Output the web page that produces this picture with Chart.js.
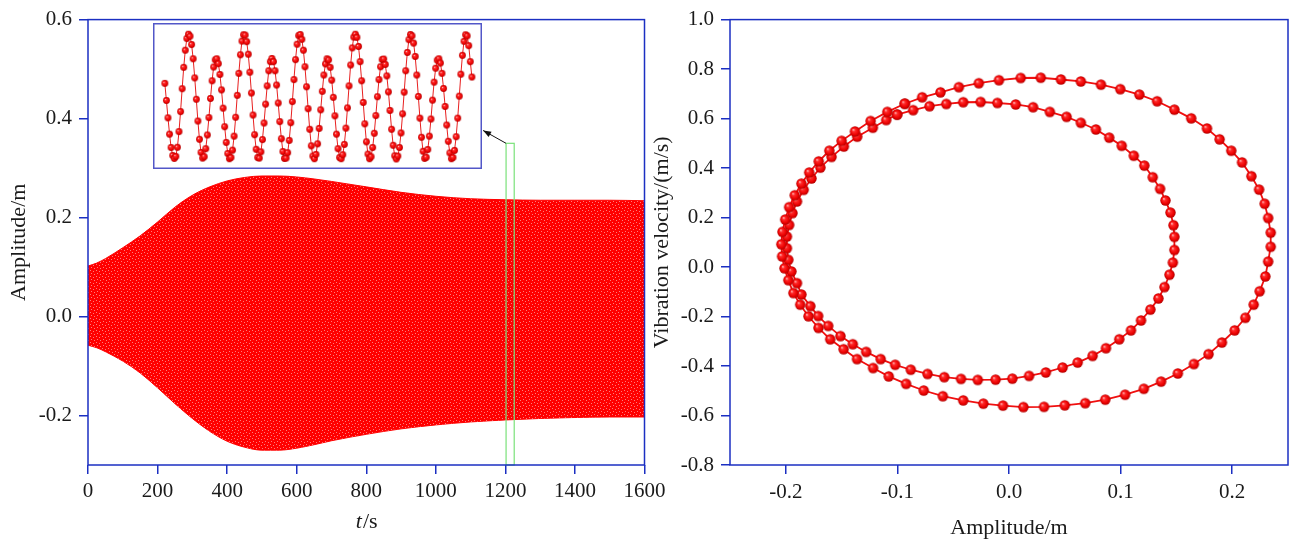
<!DOCTYPE html>
<html>
<head>
<meta charset="utf-8">
<title>Response and phase portrait</title>
<script src="https://cdn.jsdelivr.net/npm/chart.js@4.4.0/dist/chart.umd.min.js"></script>
<style>
  body { margin: 0; background: #fff; }
  #wrap { position: relative; width: 1297px; height: 550px; overflow: hidden; }
  canvas { position: absolute; top: 0; }
</style>
</head>
<body>
<div id="wrap">
  <canvas id="timeChart" width="680" height="550" style="left:0"></canvas>
  <canvas id="phaseChart" width="657" height="550" style="left:640px"></canvas>
  <canvas id="zoomChart" width="329" height="146" style="left:153px;top:23px"></canvas>
</div>
<script>
const AXIS_BLUE = "#1b2fc2";
const TEXT = "#1a1a1a";
const FONT = "'Liberation Serif', 'Times New Roman', serif";

// envelope of the displacement record (upper / lower bound of the band)
const envTime = [0, 25, 50, 100, 150, 200, 250, 300, 350, 400, 450, 500, 550, 600,
  650, 700, 800, 900, 1000, 1100, 1200, 1300, 1400, 1500, 1600];
const envUpper = [0.102, 0.108, 0.117, 0.139, 0.163, 0.191, 0.221, 0.245, 0.262, 0.274,
  0.281, 0.284, 0.284, 0.282, 0.278, 0.273, 0.262, 0.251, 0.243, 0.238, 0.236, 0.235,
  0.235, 0.235, 0.234];
const envLower = [-0.058, -0.063, -0.071, -0.090, -0.114, -0.144, -0.176, -0.206, -0.232,
  -0.252, -0.264, -0.270, -0.270, -0.266, -0.259, -0.251, -0.238, -0.227, -0.219, -0.213,
  -0.209, -0.206, -0.204, -0.203, -0.203];

// detail window starting at 1202 s, one sample every 0.12 s
const zoomStart = 1202;
const zoomStep = 0.12;
const zoomAmp = [
  0.064, 0.004, -0.057, -0.114, -0.161, -0.189, -0.199,
  -0.192, -0.160, -0.105, -0.035, 0.045, 0.120, 0.180, 0.221, 0.236, 0.229, 0.200, 0.150, 0.083, 0.008, -0.068, -0.132, -0.178, -0.198,
  -0.193, -0.165, -0.117, -0.056, 0.011, 0.073, 0.121, 0.146, 0.150, 0.133, 0.095, 0.041, -0.023, -0.088, -0.143, -0.182, -0.200,
  -0.196, -0.170, -0.121, -0.055, 0.022, 0.099, 0.164, 0.212, 0.234, 0.233, 0.210, 0.166, 0.103, 0.030, -0.047, -0.116, -0.167, -0.196,
  -0.198, -0.176, -0.133, -0.075, -0.009, 0.055, 0.108, 0.140, 0.151, 0.140, 0.108, 0.058, -0.005, -0.070, -0.130, -0.175, -0.199,
  -0.198, -0.179, -0.136, -0.074, 0.000, 0.077, 0.147, 0.201, 0.231, 0.235, 0.218, 0.180, 0.122, 0.052, -0.025, -0.097, -0.155, -0.191,
  -0.200, -0.185, -0.148, -0.094, -0.029, 0.036, 0.093, 0.132, 0.150, 0.146, 0.120, 0.075, 0.015, -0.050, -0.114, -0.165, -0.196,
  -0.200, -0.186, -0.150, -0.093, -0.022, 0.055, 0.128, 0.188, 0.226, 0.236, 0.225, 0.193, 0.140, 0.073, -0.003, -0.078, -0.141, -0.184,
  -0.200, -0.193, -0.161, -0.111, -0.049, 0.017, 0.077, 0.122, 0.147, 0.149, 0.130, 0.090, 0.034, -0.031, -0.097, -0.153, -0.190, -0.201,
  -0.191, -0.161, -0.110, -0.043, 0.033, 0.108, 0.172, 0.217, 0.235, 0.230, 0.205, 0.158, 0.093, 0.018, -0.058, -0.125, -0.174, -0.199,
  -0.195, -0.168, -0.121, -0.061, 0.005, 0.068, 0.117, 0.145, 0.150, 0.135, 0.099, 0.046, -0.017, -0.082, -0.139, -0.180, -0.200,
  -0.196, -0.171, -0.123, -0.058, 0.019, 0.096, 0.162, 0.211, 0.234, 0.230, 0.196, 0.140, 0.086
];
const zoomEnd = zoomStart + (zoomAmp.length - 1) * zoomStep;
const zoomTop = 0.35;
const arrowTip = [1136, 0.376];

// phase portrait: the two loops of the steady period-2 orbit, [amplitude, velocity]
const loopOuter = [
  [-0.0934, 0.660], [-0.0778, 0.686], [-0.0614, 0.706], [-0.0449, 0.727], [-0.0270, 0.743],
  [-0.0090, 0.755], [0.0105, 0.764], [0.0285, 0.765], [0.0465, 0.758], [0.0644, 0.750],
  [0.0824, 0.737], [0.0997, 0.719], [0.1168, 0.697], [0.1327, 0.670], [0.1482, 0.636],
  [0.1633, 0.601], [0.1774, 0.560], [0.1887, 0.516], [0.1992, 0.470], [0.2088, 0.423],
  [0.2172, 0.367], [0.2241, 0.313], [0.2291, 0.256], [0.2322, 0.198], [0.2345, 0.139],
  [0.2345, 0.082], [0.2322, 0.022], [0.2297, -0.038], [0.2246, -0.098], [0.2192, -0.152],
  [0.2118, -0.205], [0.2022, -0.256], [0.1908, -0.305], [0.1788, -0.352], [0.1657, -0.392],
  [0.1513, -0.430], [0.1363, -0.463], [0.1208, -0.492], [0.1040, -0.516], [0.0863, -0.536],
  [0.0683, -0.550], [0.0500, -0.559], [0.0314, -0.565], [0.0129, -0.566], [-0.0054, -0.560],
  [-0.0230, -0.552], [-0.0410, -0.539], [-0.0593, -0.522], [-0.0764, -0.499], [-0.0922, -0.472],
  [-0.1078, -0.442], [-0.1218, -0.408], [-0.1362, -0.372], [-0.1482, -0.332], [-0.1602, -0.292],
  [-0.1707, -0.246], [-0.1797, -0.199], [-0.1871, -0.152], [-0.1932, -0.105], [-0.1977, -0.053],
  [-0.2012, -0.005], [-0.2033, 0.043], [-0.2040, 0.092], [-0.2030, 0.142], [-0.2005, 0.192],
  [-0.1970, 0.242], [-0.1920, 0.290], [-0.1860, 0.337], [-0.1790, 0.382], [-0.1705, 0.427],
  [-0.1610, 0.470], [-0.1500, 0.510], [-0.1380, 0.548], [-0.1240, 0.590], [-0.1090, 0.627]
];
const loopInner = [
  [-0.1003, 0.616], [-0.0859, 0.634], [-0.0712, 0.650], [-0.0562, 0.659], [-0.0410, 0.666],
  [-0.0254, 0.667], [-0.0104, 0.663], [0.0060, 0.657], [0.0216, 0.646], [0.0366, 0.627],
  [0.0516, 0.607], [0.0644, 0.583], [0.0779, 0.556], [0.0898, 0.523], [0.1010, 0.490],
  [0.1118, 0.450], [0.1213, 0.410], [0.1288, 0.363], [0.1354, 0.316], [0.1402, 0.269],
  [0.1447, 0.220], [0.1474, 0.169], [0.1482, 0.122], [0.1482, 0.069], [0.1468, 0.018],
  [0.1438, -0.031], [0.1393, -0.081], [0.1339, -0.127], [0.1267, -0.172], [0.1183, -0.216],
  [0.1093, -0.256], [0.0988, -0.292], [0.0869, -0.328], [0.0749, -0.359], [0.0615, -0.386],
  [0.0480, -0.406], [0.0330, -0.426], [0.0180, -0.440], [0.0030, -0.451], [-0.0120, -0.455],
  [-0.0280, -0.456], [-0.0430, -0.452], [-0.0580, -0.445], [-0.0730, -0.432], [-0.0880, -0.415],
  [-0.1020, -0.395], [-0.1150, -0.372], [-0.1280, -0.343], [-0.1400, -0.312], [-0.1510, -0.279],
  [-0.1620, -0.238], [-0.1710, -0.198], [-0.1780, -0.158], [-0.1860, -0.111], [-0.1900, -0.065],
  [-0.1950, -0.018], [-0.1977, 0.029], [-0.1990, 0.076], [-0.1990, 0.123], [-0.1970, 0.170],
  [-0.1940, 0.218], [-0.1900, 0.265], [-0.1840, 0.312], [-0.1770, 0.358], [-0.1690, 0.402],
  [-0.1590, 0.445], [-0.1480, 0.487], [-0.1360, 0.527], [-0.1220, 0.563], [-0.1100, 0.594]
];

const timeTicks = [0, 200, 400, 600, 800, 1000, 1200, 1400, 1600];
const ampTicks = [-0.2, 0.0, 0.2, 0.4, 0.6];
const phaseXTicks = [-0.2, -0.1, 0.0, 0.1, 0.2];
const phaseYTicks = [-0.8, -0.6, -0.4, -0.2, 0.0, 0.2, 0.4, 0.6, 0.8, 1.0];

// shaded red ball used as marker
function ball(r) {
  const s = Math.ceil(r * 2) + 2;
  const c = document.createElement("canvas");
  c.width = s; c.height = s;
  const g = c.getContext("2d");
  const grad = g.createRadialGradient(s / 2 - r * 0.35, s / 2 - r * 0.35, 0, s / 2, s / 2, r);
  grad.addColorStop(0, "#ffd2d2");
  grad.addColorStop(0.3, "#ff2a2a");
  grad.addColorStop(0.75, "#ea0000");
  grad.addColorStop(1, "#b00000");
  g.fillStyle = grad;
  g.beginPath();
  g.arc(s / 2, s / 2, r, 0, Math.PI * 2);
  g.fill();
  return c;
}

// red fill with the light speckle left by the dense markers
function speckle() {
  const c = document.createElement("canvas");
  c.width = 6; c.height = 6;
  const g = c.getContext("2d");
  g.fillStyle = "#ff0000";
  g.fillRect(0, 0, 6, 6);
  g.fillStyle = "rgba(255,175,175,0.7)";
  [[0, 0], [3, 1], [1, 3], [4, 4]].forEach(p => g.fillRect(p[0], p[1], 1, 1));
  return g.createPattern(c, "repeat");
}

const frame = {
  id: "frame",
  afterDraw(chart) {
    const a = chart.chartArea, ctx = chart.ctx;
    ctx.save();
    ctx.strokeStyle = AXIS_BLUE;
    ctx.lineWidth = 1.5;
    ctx.strokeRect(a.left, a.top, a.right - a.left, a.bottom - a.top);
    ctx.restore();
  }
};

// green window over the record and the arrow to the inset
const zoomMark = {
  id: "zoomMark",
  afterDatasetsDraw(chart) {
    const { ctx, scales: { x, y } } = chart;
    const l = x.getPixelForValue(zoomStart), r = x.getPixelForValue(zoomEnd);
    const t = y.getPixelForValue(zoomTop), b = chart.chartArea.bottom;
    ctx.save();
    ctx.strokeStyle = "#7ae27a";
    ctx.lineWidth = 1.2;
    ctx.strokeRect(l, t, r - l, b - t);
    const ax = x.getPixelForValue(arrowTip[0]), ay = y.getPixelForValue(arrowTip[1]);
    const ang = Math.atan2(ay - t, ax - l);
    ctx.strokeStyle = "#111";
    ctx.fillStyle = "#111";
    ctx.lineWidth = 1;
    ctx.beginPath();
    ctx.moveTo(l, t);
    ctx.lineTo(ax, ay);
    ctx.stroke();
    ctx.beginPath();
    ctx.moveTo(ax, ay);
    ctx.lineTo(ax - 8 * Math.cos(ang) + 3 * Math.sin(ang), ay - 8 * Math.sin(ang) - 3 * Math.cos(ang));
    ctx.lineTo(ax - 8 * Math.cos(ang) - 3 * Math.sin(ang), ay - 8 * Math.sin(ang) + 3 * Math.cos(ang));
    ctx.closePath();
    ctx.fill();
    ctx.restore();
  }
};

// "t/s" with italic t
const timeTitle = {
  id: "timeTitle",
  afterDraw(chart) {
    const { ctx, chartArea: a } = chart;
    ctx.save();
    ctx.fillStyle = TEXT;
    ctx.textBaseline = "middle";
    ctx.textAlign = "left";
    ctx.font = "italic 22px " + FONT;
    const w1 = ctx.measureText("t").width;
    ctx.font = "22px " + FONT;
    const w2 = ctx.measureText("/s").width;
    const x0 = (a.left + a.right) / 2 - (w1 + w2) / 2;
    ctx.font = "italic 22px " + FONT;
    ctx.fillText("t", x0, 522);
    ctx.font = "22px " + FONT;
    ctx.fillText("/s", x0 + w1 + 1, 522);
    ctx.restore();
  }
};

const gridStyle = { drawOnChartArea: false, color: AXIS_BLUE, lineWidth: 1.5, tickLength: 9 };
const tickFont = { family: FONT, size: 21 };
const titleFont = { family: FONT, size: 22 };

new Chart(document.getElementById("timeChart"), {
  type: "line",
  data: {
    datasets: [
      {
        data: envTime.map((t, i) => ({ x: t, y: envUpper[i] })),
        borderColor: "#ff0000", borderWidth: 1, pointRadius: 0,
        backgroundColor: speckle(), fill: "+1", cubicInterpolationMode: "monotone"
      },
      {
        data: envTime.map((t, i) => ({ x: t, y: envLower[i] })),
        borderColor: "#ff0000", borderWidth: 1, pointRadius: 0,
        fill: false, cubicInterpolationMode: "monotone"
      }
    ]
  },
  options: {
    responsive: false, animation: false, devicePixelRatio: 1,
    layout: { padding: { left: 0, top: 16, right: 35.5, bottom: 0 } },
    plugins: { legend: { display: false }, tooltip: { enabled: false } },
    scales: {
      x: {
        type: "linear", min: 0, max: 1600,
        border: { display: false }, grid: gridStyle,
        afterBuildTicks: s => { s.ticks = timeTicks.map(v => ({ value: v })); },
        afterFit: s => { s.height = 85; },
        ticks: { color: TEXT, font: tickFont, padding: 5, autoSkip: false, maxRotation: 0,
          callback: v => String(v) }
      },
      y: {
        type: "linear", min: -0.3, max: 0.6,
        border: { display: false }, grid: gridStyle,
        afterBuildTicks: s => { s.ticks = ampTicks.map(v => ({ value: v })); },
        afterFit: s => { s.width = 88; },
        ticks: { color: TEXT, font: tickFont, padding: 7, callback: v => v.toFixed(1) },
        title: { display: true, text: "Amplitude/m", color: TEXT, font: titleFont,
          padding: { top: 6, bottom: 0 } }
      }
    }
  },
  plugins: [frame, zoomMark, timeTitle]
});

const bigBall = ball(5.2);
const smallBall = ball(3.4);

new Chart(document.getElementById("phaseChart"), {
  type: "scatter",
  data: {
    datasets: [loopOuter, loopInner].map(loop => ({
      data: loop.concat([loop[0]]).map(p => ({ x: p[0], y: p[1] })),
      showLine: true,
      borderColor: "#f01010",
      borderWidth: 1.8,
      pointStyle: bigBall,
      pointRadius: 5
    }))
  },
  options: {
    responsive: false, animation: false, devicePixelRatio: 1,
    layout: { padding: { left: 0, top: 16, right: 9, bottom: 0 } },
    plugins: { legend: { display: false }, tooltip: { enabled: false } },
    scales: {
      x: {
        type: "linear", min: -0.25, max: 0.25,
        border: { display: false }, grid: gridStyle,
        afterBuildTicks: s => { s.ticks = phaseXTicks.map(v => ({ value: v })); },
        afterFit: s => { s.height = 85; },
        ticks: { color: TEXT, font: tickFont, padding: 6, autoSkip: false, maxRotation: 0,
          callback: v => v.toFixed(1) },
        title: { display: true, text: "Amplitude/m", color: TEXT, font: titleFont,
          padding: { top: 0, bottom: 9 } }
      },
      y: {
        type: "linear", min: -0.8, max: 1.0,
        border: { display: false }, grid: gridStyle,
        afterBuildTicks: s => { s.ticks = phaseYTicks.map(v => ({ value: v })); },
        afterFit: s => { s.width = 90; },
        ticks: { color: TEXT, font: tickFont, padding: 7, callback: v => v.toFixed(1) },
        title: { display: true, text: "Vibration velocity/(m/s)", color: TEXT, font: titleFont,
          padding: { top: 9, bottom: 0 } }
      }
    }
  },
  plugins: [frame]
});

// inset: the samples inside the green window
const insetBox = {
  id: "insetBox",
  beforeDraw(chart) {
    const ctx = chart.ctx;
    ctx.save();
    ctx.fillStyle = "#fff";
    ctx.fillRect(0, 0, chart.width, chart.height);
    ctx.restore();
  },
  afterDraw(chart) {
    const ctx = chart.ctx;
    ctx.save();
    ctx.strokeStyle = "#5257c8";
    ctx.lineWidth = 1.5;
    ctx.strokeRect(0.75, 0.75, chart.width - 1.5, chart.height - 1.5);
    ctx.restore();
  }
};

new Chart(document.getElementById("zoomChart"), {
  type: "line",
  data: {
    datasets: [{
      data: zoomAmp.map((v, i) => ({ x: zoomStart + i * zoomStep, y: v })),
      borderColor: "#e82020",
      borderWidth: 1,
      pointStyle: smallBall,
      pointRadius: 3,
      clip: false
    }]
  },
  options: {
    responsive: false, animation: false, devicePixelRatio: 1,
    layout: { padding: 0 },
    plugins: { legend: { display: false }, tooltip: { enabled: false } },
    scales: {
      x: { type: "linear", display: false, min: 1201.48, max: 1225.79 },
      y: { display: false, min: -0.2186, max: 0.2578 }
    }
  },
  plugins: [insetBox]
});
</script>
</body>
</html>
